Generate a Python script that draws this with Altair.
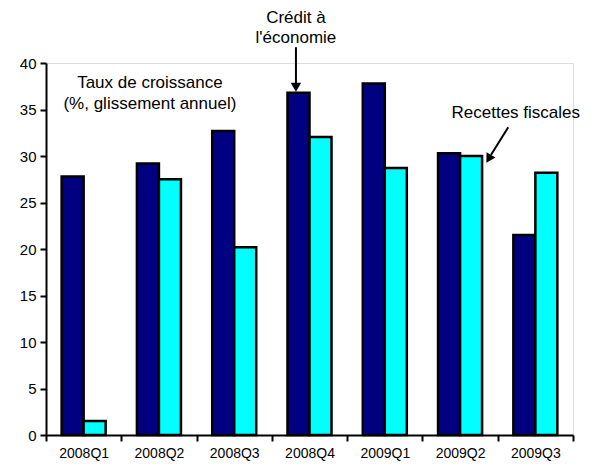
import altair as alt
import pandas as pd

quarters = ["2008Q1", "2008Q2", "2008Q3", "2008Q4", "2009Q1", "2009Q2", "2009Q3"]
credit = [27.8, 29.2, 32.7, 36.8, 37.8, 30.3, 21.5]
recettes = [1.5, 27.5, 20.2, 32.05, 28.7, 30.0, 28.2]
series = ["Crédit à l'économie", "Recettes fiscales"]
colors = ["#000080", "#00FFFF"]

rows = []
for q, c, r in zip(quarters, credit, recettes):
    rows.append({"q": q, "s": series[0], "v": c})
    rows.append({"q": q, "s": series[1], "v": r})
df = pd.DataFrame(rows)

# annotation texts, positioned in data units (x: quarter index units, y: percent)
texts = pd.DataFrame({
    "t": ["Taux de croissance", "(%, glissement annuel)", "Crédit à", "l'économie", "Recettes fiscales"],
    "x": [1.38, 1.38, 3.32, 3.32, 6.24],
    "y": [37.9, 35.6, 44.8, 42.7, 34.6],
})
lines = pd.DataFrame({
    "x": [3.32, 6.14],
    "y": [41.7, 33.1],
    "x2": [3.32, 5.91],
    "y2": [37.8, 30.1],
})
heads = pd.DataFrame({
    "x": [3.32, 5.88],
    "y": [37.4, 29.7],
    "a": [180, 211],
})

FONT = "Liberation Sans"

xq = alt.X("q:N", sort=quarters, title=None,
           scale=alt.Scale(paddingInner=0, paddingOuter=0),
           axis=alt.Axis(tickBand="extent", labelAngle=0, labelFontSize=14,
                         labelFont=FONT, labelColor="black", domainColor="black",
                         domainWidth=2, tickColor="black", tickWidth=2, tickSize=6,
                         labelPadding=5))
yv = alt.Y("v:Q", title=None,
           scale=alt.Scale(domain=[0, 40], nice=False),
           axis=alt.Axis(values=list(range(0, 41, 5)), grid=False, labelFontSize=15,
                         labelFont=FONT, labelColor="black", domainColor="black",
                         domainWidth=2, tickColor="black", tickWidth=2, tickSize=6,
                         labelPadding=4))

bars = alt.Chart(df).mark_bar(stroke="black", strokeWidth=2.5).encode(
    x=xq,
    xOffset=alt.XOffset("s:N", sort=series,
                        scale=alt.Scale(paddingInner=0, paddingOuter=0.71)),
    y=yv,
    color=alt.Color("s:N", scale=alt.Scale(domain=series, range=colors), legend=None),
)

xa = alt.Scale(domain=[0, 7], nice=False, zero=False)
ya = alt.Scale(domain=[0, 40], nice=False)

txt = alt.Chart(texts).mark_text(font=FONT, fontSize=17, color="black", baseline="middle").encode(
    x=alt.X("x:Q", scale=xa, axis=None),
    y=alt.Y("y:Q", scale=ya, axis=None),
    text="t:N",
)
rl = alt.Chart(lines).mark_rule(color="black", strokeWidth=2).encode(
    x=alt.X("x:Q", scale=xa, axis=None),
    y=alt.Y("y:Q", scale=ya, axis=None),
    x2="x2:Q",
    y2="y2:Q",
)
hd = alt.Chart(heads).mark_point(shape="triangle-up", filled=True, color="black", size=110, opacity=1).encode(
    x=alt.X("x:Q", scale=xa, axis=None),
    y=alt.Y("y:Q", scale=ya, axis=None),
    angle=alt.Angle("a:Q", scale=None),
)

ann = alt.layer(txt, rl, hd)

chart = alt.layer(bars, ann).resolve_scale(x="independent", y="independent").properties(
    width=527, height=372,
    autosize=alt.AutoSizeParams(type="none"),
    padding={"left": 38, "top": 55, "right": 16, "bottom": 29},
).configure_view(stroke=None).configure(background="white")

chart.save("out.html", embed_options={"renderer": "svg", "actions": False})
